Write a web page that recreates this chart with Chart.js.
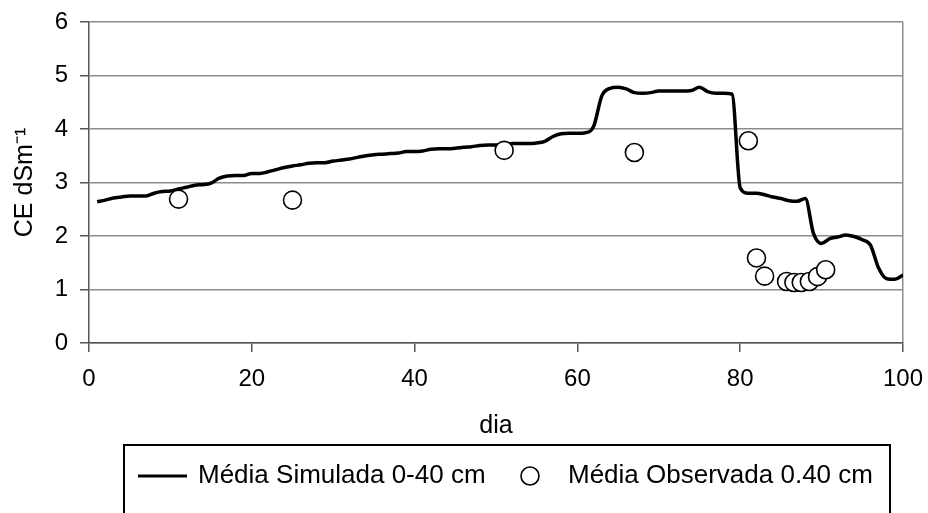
<!DOCTYPE html>
<html lang="pt">
<head>
<meta charset="utf-8">
<title>CE dSm-1 por dia</title>
<script src="https://cdn.jsdelivr.net/npm/chart.js@4.4.1/dist/chart.umd.min.js"></script>
<style>
  html, body { margin: 0; padding: 0; background: #fff; }
  #wrap { position: relative; width: 928px; height: 513px; }
</style>
</head>
<body>
<div id="wrap"><canvas id="chart" width="928" height="513"></canvas></div>
<script>
// ====== DADOS ======

// Média simulada 0-40 cm (um valor por dia)
const simDays = [
  1, 2, 3, 4, 5, 6, 7, 8, 9, 10,
  11, 12, 13, 14, 15, 16, 17, 18, 19, 20,
  21, 22, 23, 24, 25, 26, 27, 28, 29, 30,
  31, 32, 33, 34, 35, 36, 37, 38, 39, 40,
  41, 42, 43, 44, 45, 46, 47, 48, 49, 50,
  51, 52, 53, 54, 55, 56, 57, 58, 59, 60,
  61, 62, 63, 64, 65, 66, 67, 68, 69, 70,
  71, 72, 73, 74, 75, 76, 77, 78, 79, 80,
  81, 82, 83, 84, 85, 86, 87, 88, 89, 90,
  91, 92, 93, 94, 95, 96, 97, 98, 99, 100
];
const simCE = [
  2.64, 2.67, 2.71, 2.73, 2.75, 2.75, 2.75, 2.80, 2.83, 2.84,
  2.88, 2.91, 2.95, 2.96, 2.99, 3.08, 3.12, 3.13, 3.13, 3.17,
  3.17, 3.20, 3.24, 3.28, 3.31, 3.33, 3.36, 3.37, 3.37, 3.40,
  3.42, 3.44, 3.47, 3.50, 3.52, 3.53, 3.54, 3.55, 3.58, 3.58,
  3.59, 3.62, 3.63, 3.63, 3.64, 3.66, 3.67, 3.69, 3.70, 3.70,
  3.71, 3.73, 3.73, 3.73, 3.74, 3.77, 3.86, 3.91, 3.92, 3.92,
  3.93, 4.05, 4.62, 4.76, 4.78, 4.75, 4.68, 4.67, 4.68, 4.71,
  4.71, 4.71, 4.71, 4.72, 4.78, 4.70, 4.67, 4.67, 4.65, 2.90,
  2.80, 2.80, 2.77, 2.73, 2.70, 2.66, 2.65, 2.70, 2.05, 1.86,
  1.95, 1.98, 2.02, 1.99, 1.93, 1.83, 1.40, 1.20, 1.19, 1.27
];

// Média observada 0.40 cm
const obsDays = [11, 25, 51, 67, 81, 82, 83, 85.7, 86.6, 87.5, 88.5, 89.5, 90.5];
const obsCE = [2.69, 2.67, 3.60, 3.56, 3.78, 1.59, 1.25, 1.15, 1.13, 1.13, 1.15, 1.24, 1.37];

const seriesLabels = ['Média Simulada 0-40 cm', 'Média Observada 0.40 cm'];
const xTitle = 'dia';
const yTitle = 'CE dSm\u207B\u00B9';

// ====== ESTILO ======

const FONT = 'Arial, "Liberation Sans", sans-serif';
const GRID = '#8c8c8c';
const AXIS = '#555';

// Legenda com moldura, como no gráfico original (a caixa sai pela borda de baixo)
const boxLegend = {
  id: 'boxLegend',
  afterDraw(chart) {
    const { ctx } = chart;
    const sim = chart.data.datasets[0];
    const obs = chart.data.datasets[1];
    const cy = 476;
    ctx.save();
    ctx.strokeStyle = '#000';
    ctx.lineWidth = 2;
    ctx.strokeRect(124, 445, 766, 100);

    ctx.strokeStyle = sim.borderColor;
    ctx.lineWidth = 3;
    ctx.beginPath();
    ctx.moveTo(138, cy);
    ctx.lineTo(187, cy);
    ctx.stroke();

    ctx.fillStyle = obs.pointBackgroundColor;
    ctx.strokeStyle = obs.pointBorderColor;
    ctx.lineWidth = 1.6;
    ctx.beginPath();
    ctx.arc(530, cy, 9, 0, Math.PI * 2);
    ctx.fill();
    ctx.stroke();

    ctx.fillStyle = '#000';
    ctx.font = `26px ${FONT}`;
    ctx.textBaseline = 'middle';
    ctx.textAlign = 'left';
    ctx.fillText(sim.label, 198, cy);
    ctx.fillText(obs.label, 568, cy);
    ctx.restore();
  }
};

// ====== GRÁFICO ======

const simPoints = simDays.map((d, i) => ({ x: d, y: simCE[i] }));
const obsPoints = obsDays.map((d, i) => ({ x: d, y: obsCE[i] }));

// eslint-disable-next-line no-undef
new Chart(document.getElementById('chart'), {
  type: 'line',
  data: {
    datasets: [
      {
        label: seriesLabels[0],
        data: simPoints,
        borderColor: '#000',
        borderWidth: 3.5,
        pointRadius: 0,
        cubicInterpolationMode: 'monotone',
        fill: false,
        order: 1,
      },
      {
        type: 'scatter',
        label: seriesLabels[1],
        data: obsPoints,
        showLine: false,
        pointRadius: 9,
        pointBorderWidth: 1.6,
        pointBorderColor: '#000',
        pointBackgroundColor: '#fff',
        order: 0,
      }
    ]
  },
  options: {
    responsive: false,
    animation: false,
    events: [],
    layout: { padding: { left: 0, top: 22, right: 25, bottom: 0 } },
    plugins: { legend: { display: false }, tooltip: { enabled: false } },
    scales: {
      x: {
        type: 'linear',
        min: 0, max: 100,
        // área do gráfico fixa: sem folga extra para o rótulo "100"
        afterFit: (s) => { s.height = 170; s.paddingLeft = 0; s.paddingRight = 0; },
        ticks: { stepSize: 20, padding: 13, color: '#000', font: { family: FONT, size: 24 } },
        grid: {
          drawOnChartArea: true,
          color: (c) => (c.tick && c.tick.value === 100 ? GRID : 'rgba(0,0,0,0)'),
          tickColor: AXIS,
          tickLength: 9,
          lineWidth: 1.5,
        },
        border: { color: AXIS, width: 1.5 },
        title: {
          display: true, text: xTitle, color: '#000',
          font: { family: FONT, size: 25 },
          padding: { top: 0, bottom: 72 }
        }
      },
      y: {
        min: 0, max: 6,
        afterFit: (s) => { s.width = 89; s.paddingTop = 0; s.paddingBottom = 0; },
        ticks: { stepSize: 1, padding: 12, color: '#000', font: { family: FONT, size: 24 } },
        grid: { color: GRID, tickColor: AXIS, tickLength: 9, lineWidth: 1.5 },
        border: { color: AXIS, width: 1.5 },
        title: {
          display: true, text: yTitle, color: '#000',
          font: { family: FONT, size: 25 },
          padding: { top: 10, bottom: 0 }
        }
      }
    }
  },
  plugins: [boxLegend]
});
</script>
</body>
</html>
